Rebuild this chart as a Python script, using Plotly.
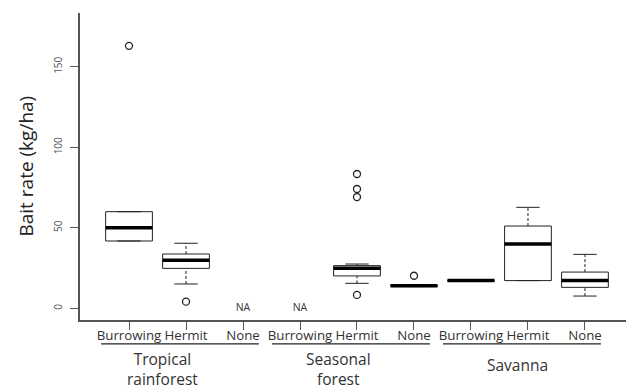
import plotly.graph_objects as go

# ---------------- data ----------------
positions = [1, 2, 3, 4, 5, 6, 7, 8, 9]
tick_labels = ["Burrowing", "Hermit", "None",
               "Burrowing", "Hermit", "None",
               "Burrowing", "Hermit", "None"]
region_labels = ["Tropical<br>rainforest", "Seasonal<br>forest", "Savanna"]
region_first = [1, 4, 7]
region_last = [3, 6, 9]

# box statistics (None = no data, plotted as "NA")
q1 = [41.8, 24.8, None, None, 20.1, 13.5, 16.8, 17.2, 13.0]
median = [50.1, 29.9, None, None, 24.8, 14.0, 17.2, 39.9, 17.2]
q3 = [60.0, 33.7, None, None, 26.5, 14.5, 17.6, 51.1, 22.5]
lower_whisker = [41.8, 15.1, None, None, 15.5, 13.5, 16.8, 17.2, 7.6]
upper_whisker = [60.0, 40.4, None, None, 27.5, 14.5, 17.6, 62.7, 33.5]

outlier_x = [1, 2, 5, 5, 5, 5, 6]
outlier_y = [163.0, 4.1, 83.4, 74.1, 69.1, 8.3, 20.2]

y_ticks = [0, 50, 100, 150]

# ---------------- style ----------------
BOX_HALF = 0.41
CAP_HALF = BOX_HALF / 2
INK = "#222222"
FONT = "Open Sans"

box_x, box_y = [], []
med_x, med_y = [], []
wh_x, wh_y = [], []
cap_x, cap_y = [], []
na_x = []
for p, a, m, b, lo, hi in zip(positions, q1, median, q3, lower_whisker, upper_whisker):
    if m is None:
        na_x.append(p)
        continue
    box_x += [p - BOX_HALF, p + BOX_HALF, p + BOX_HALF, p - BOX_HALF, p - BOX_HALF, None]
    box_y += [a, a, b, b, a, None]
    med_x += [p - BOX_HALF, p + BOX_HALF, None]
    med_y += [m, m, None]
    if hi > b:
        wh_x += [p, p, None]
        wh_y += [b, hi, None]
    if lo < a:
        wh_x += [p, p, None]
        wh_y += [lo, a, None]
    cap_x += [p - CAP_HALF, p + CAP_HALF, None, p - CAP_HALF, p + CAP_HALF, None]
    cap_y += [hi, hi, None, lo, lo, None]

fig = go.Figure()
fig.add_trace(go.Scatter(x=wh_x, y=wh_y, mode="lines",
                         line=dict(color=INK, width=1, dash="3px,2px"),
                         hoverinfo="skip", showlegend=False))
fig.add_trace(go.Scatter(x=cap_x, y=cap_y, mode="lines",
                         line=dict(color=INK, width=1),
                         hoverinfo="skip", showlegend=False))
fig.add_trace(go.Scatter(x=box_x, y=box_y, mode="lines",
                         line=dict(color=INK, width=1),
                         hoverinfo="skip", showlegend=False))
fig.add_trace(go.Scatter(x=med_x, y=med_y, mode="lines",
                         line=dict(color="#000000", width=3.5),
                         hoverinfo="skip", showlegend=False))
fig.add_trace(go.Scatter(x=outlier_x, y=outlier_y, mode="markers",
                         marker=dict(symbol="circle-open", size=7, color=INK,
                                     line=dict(color=INK, width=1.3)),
                         hoverinfo="skip", showlegend=False))
fig.add_trace(go.Scatter(x=na_x, y=[0] * len(na_x), mode="text",
                         text=["NA"] * len(na_x),
                         textfont=dict(family=FONT, size=10.5, color="#333333"),
                         hoverinfo="skip", showlegend=False))

# region underlines and labels
label_x = [1.58, 4.67, 7.82]
label_y = [-0.158, -0.158, -0.145]
for f, l, lab, lx, ly in zip(region_first, region_last, region_labels, label_x, label_y):
    fig.add_shape(type="line", xref="x", yref="paper",
                  x0=f - 0.49, x1=l + 0.28, y0=-0.078, y1=-0.078,
                  line=dict(color=INK, width=1.3))
    fig.add_annotation(x=lx, y=ly, xref="x", yref="paper", text=lab,
                       showarrow=False, xanchor="center", yanchor="middle",
                       borderpad=0,
                       font=dict(family=FONT, size=15.5, color="#333333"))

fig.add_annotation(x=-0.1007, y=0.5, xref="paper", yref="paper",
                   text="Bait rate (kg/ha)", textangle=-90, showarrow=False,
                   xanchor="center", yanchor="middle",
                   font=dict(family=FONT, size=19, color="#222222"))

fig.update_xaxes(range=[0.14, 9.72], tickmode="array", tickvals=positions,
                 ticktext=tick_labels, ticks="outside", ticklen=8, tickangle=0,
                 ticklabelstandoff=-6,
                 tickcolor="#555555", tickwidth=1.3,
                 showline=True, linecolor="#555555", linewidth=1.5,
                 showgrid=False, zeroline=False,
                 tickfont=dict(family=FONT, size=13.3, color="#333333"))
fig.update_yaxes(range=[-7.27, 183.4], tickmode="array", tickvals=y_ticks,
                 ticks="outside", ticklen=8, tickangle=-90,
                 ticklabelstandoff=4,
                 tickcolor="#555555", tickwidth=1.3,
                 showline=True, linecolor="#555555", linewidth=1.5,
                 showgrid=False, zeroline=False,
                 tickfont=dict(family=FONT, size=10, color="#555555"))

fig.update_layout(width=626, height=389,
                  margin=dict(l=80, r=0, t=13, b=69),
                  paper_bgcolor="white", plot_bgcolor="white",
                  showlegend=False)

fig.write_html("out.html", config={"displayModeBar": False},
               post_script="document.body.style.margin='0';document.body.style.overflow='hidden';")
